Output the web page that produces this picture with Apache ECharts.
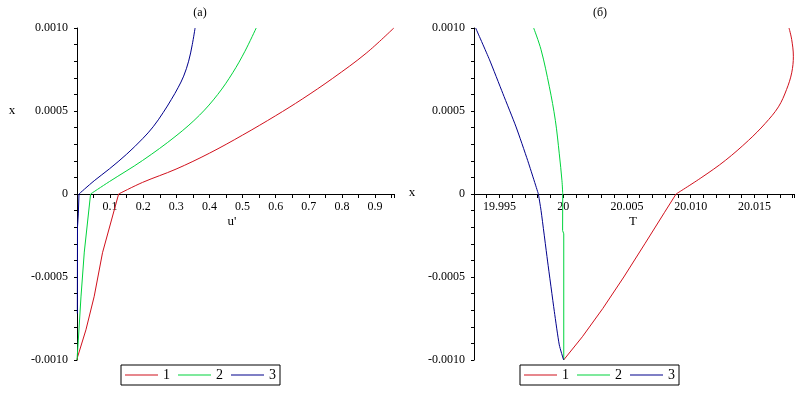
<!DOCTYPE html>
<html><head><meta charset="utf-8">
<script src="https://cdn.jsdelivr.net/npm/echarts@6/dist/echarts.min.js"></script>
<style>html,body{margin:0;padding:0;background:#fff}#c{width:805px;height:395px}</style>
</head><body><div id="c"></div>
<script>
const seriesNames = ['1', '2', '3'];
const colors = ['#d0101c', '#00d33c', '#00008c'];

// Plot (a): [u', x] — lower (x<0) and upper (x>0) branches
const aRedLow = [[0, -0.001], [0.002, -0.00098], [0.027, -0.000818], [0.052, -0.000616], [0.077, -0.000354], [0.1257, 0]];
const aRedUp = [[0.1257, 0], [0.198, 0.00007], [0.299, 0.00015], [0.4, 0.000246], [0.5, 0.000355], [0.6, 0.000472],
  [0.68, 0.000572], [0.772, 0.000697], [0.873, 0.000848], [0.9565, 0.001]];
const aGreenLow = [[0, -0.001], [0.004, -0.00088], [0.012, -0.00062], [0.022, -0.00035], [0.041, 0]];
const aGreenUp = [[0.041, 0], [0.0976, 0.0000745], [0.198, 0.000202], [0.299, 0.00035], [0.37, 0.000475],
  [0.425, 0.0006], [0.47, 0.00073], [0.507, 0.00086], [0.541, 0.001]];
const aBlueLow = [[0.001, -0.00072], [0.0015, -0.0002], [0.004, -0.00012], [0.006, 0]];
const aBlueUp = [[0.006, 0], [0.052, 0.00008], [0.0976, 0.000151], [0.15, 0.00024], [0.198, 0.000333], [0.23, 0.000405],
  [0.26, 0.00049], [0.285, 0.00057], [0.305, 0.00064], [0.322, 0.00071], [0.337, 0.0008], [0.348, 0.0009],
  [0.3565, 0.001]];

// Plot (б): [T, x]
const bRedUp = [[20.01771, 0.001], [20.01792, 0.00093], [20.01805, 0.00083], [20.01792, 0.00073], [20.01752, 0.00063],
  [20.01688, 0.000525], [20.01583, 0.000424], [20.01453, 0.000323], [20.01271, 0.000202], [20.01088, 0.000101],
  [20.00885, 0]];
const bRedLow = [[20.00885, 0], [20.00795, -0.00011], [20.0064, -0.0003], [20.00475, -0.0005], [20.0031, -0.00069],
  [20.0015, -0.00086], [20.00003, -0.001]];
const bGreenUp = [[19.99768, 0.001], [19.99826, 0.000869], [19.99891, 0.000646], [19.99938, 0.000444],
  [19.99969, 0.000242], [19.9999, 0.00008], [19.99996, 0]];
const bGreenLow = [[19.99996, 0], [19.99995, -0.00022], [20.00004, -0.00024], [20.00004, -0.001]];
const bBlueUp = [[19.99313, 0.001], [19.99422, 0.000808], [19.99526, 0.000606], [19.9963, 0.000404],
  [19.99721, 0.000202], [19.99805, 0]];
const bBlueLow = [[19.99805, 0], [19.99826, -0.0001], [19.99877, -0.000404], [19.9993, -0.000707],
  [19.99969, -0.000909], [20.00003, -0.001]];

const aXTickLabels = ['0.1', '0.2', '0.3', '0.4', '0.5', '0.6', '0.7', '0.8', '0.9'];
const bXTickLabels = ['19.995', '20', '20.005', '20.010', '20.015'];
const yTickLabels = ['-0.0010', '-0.0005', '0', '0.0005', '0.0010'];

const FONT = '"Liberation Serif", "Times New Roman", serif';
function pick(labels, v, tol) {
  for (const l of labels) if (Math.abs(parseFloat(l) - v) < tol) return l;
  return '';
}
const axisLine = { lineStyle: { color: '#000', width: 1 } };
const lbl = { color: '#000', fontSize: 12, fontFamily: FONT };
const GRID_H = 332;

function xAxisCfg(gi, min, max, interval, labels, tol) {
  return {
    type: 'value', gridIndex: gi, min: min, max: max, interval: interval,
    position: 'bottom', offset: -GRID_H / 2,
    axisLine: Object.assign({ onZero: false }, axisLine),
    axisTick: { show: true, length: 4, lineStyle: { color: '#000' } },
    axisLabel: Object.assign({ margin: 7, showMinLabel: true, showMaxLabel: true,
      formatter: v => pick(labels, v, tol) }, lbl),
    splitLine: { show: false }
  };
}
function yAxisCfg(gi) {
  return {
    type: 'value', gridIndex: gi, min: -0.001, max: 0.001, interval: 0.0001,
    axisLine: Object.assign({ onZero: false }, axisLine),
    axisTick: { show: true, length: 3, lineStyle: { color: '#000' } },
    axisLabel: Object.assign({ margin: 9, formatter: v => pick(yTickLabels, v, 1e-9) }, lbl),
    splitLine: { show: false }
  };
}
function line(name, data, color, gi, smooth) {
  return { type: 'line', name: name, data: data, xAxisIndex: gi, yAxisIndex: gi,
    symbol: 'none', showSymbol: false, smooth: smooth, lineStyle: { width: 1, color: color }, itemStyle: { color: color },
    emphasis: { disabled: true } };
}
function legendCfg(left) {
  return { left: left, top: 365, orient: 'horizontal', data: seriesNames, icon: 'rect',
    itemWidth: 33, itemHeight: 1, itemGap: 8, padding: [3, 4], borderColor: '#000', borderWidth: 1,
    textStyle: { color: '#000', fontSize: 14, fontFamily: FONT }, selectedMode: false };
}
function txt(t, x, y, size) {
  return { type: 'text', style: { text: t, x: x, y: y, textAlign: 'center', textVerticalAlign: 'middle',
    fontSize: size, fontFamily: FONT, fill: '#000' } };
}

const chart = echarts.init(document.getElementById('c'), null, { renderer: 'canvas' });
chart.setOption({
  animation: false,
  backgroundColor: '#fff',
  grid: [
    { left: 77, top: 28, width: 317, height: GRID_H, containLabel: false },
    { left: 474, top: 28, width: 320, height: GRID_H, containLabel: false }
  ],
  xAxis: [
    xAxisCfg(0, 0, 0.957, 0.05, aXTickLabels, 1e-6),
    xAxisCfg(1, 19.993, 20.0181, 0.001, bXTickLabels, 1e-7)
  ],
  yAxis: [yAxisCfg(0), yAxisCfg(1)],
  legend: [legendCfg(121), legendCfg(520)],
  series: [
    line(seriesNames[0], aRedLow, colors[0], 0, false),
    line(seriesNames[0], aRedUp, colors[0], 0, 0.35),
    line(seriesNames[1], aGreenLow, colors[1], 0, false),
    line(seriesNames[1], aGreenUp, colors[1], 0, 0.35),
    line(seriesNames[2], aBlueLow, colors[2], 0, false),
    line(seriesNames[2], aBlueUp, colors[2], 0, 0.35),
    line(seriesNames[0], bRedUp, colors[0], 1, 0.35),
    line(seriesNames[0], bRedLow, colors[0], 1, false),
    line(seriesNames[1], bGreenUp, colors[1], 1, 0.35),
    line(seriesNames[1], bGreenLow, colors[1], 1, false),
    line(seriesNames[2], bBlueUp, colors[2], 1, 0.2),
    line(seriesNames[2], bBlueLow, colors[2], 1, 0.2)
  ],
  graphic: [
    txt('(a)', 200, 13, 12),
    txt('(б)', 600, 13, 12),
    txt('x', 12, 111, 13),
    txt('x', 412, 193, 13),
    txt("u'", 232, 222, 13),
    txt('T', 633, 222, 13)
  ]
});
</script>
</body></html>
